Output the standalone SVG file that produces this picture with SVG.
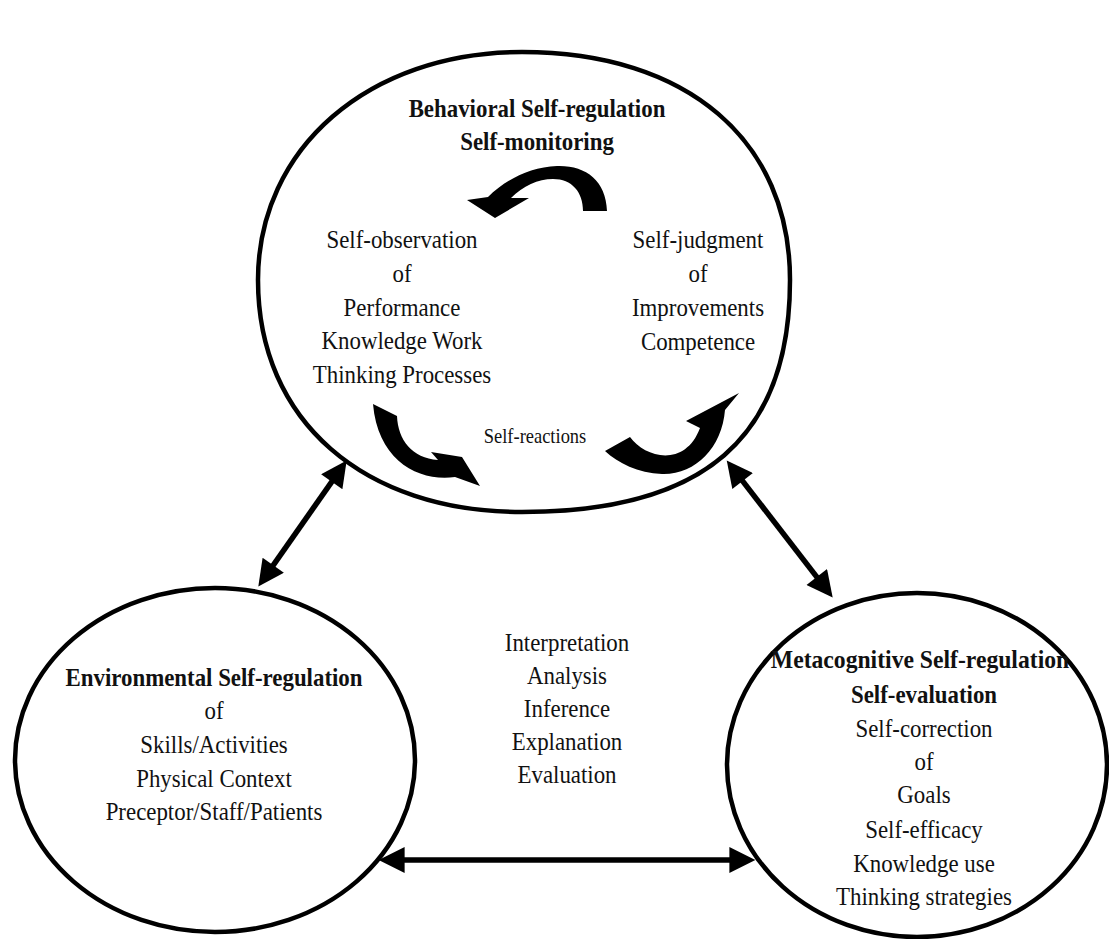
<svg xmlns="http://www.w3.org/2000/svg" width="1109" height="939" viewBox="0 0 1109 939">
<style>
.c{fill:none;stroke:#000;stroke-width:4.5}
.t{font-family:"Liberation Serif","Times New Roman",serif;font-size:26px;fill:#111;text-anchor:middle}
.b{font-weight:bold}
.s{font-size:21px}
.k{fill:#000;stroke:none}
.l{stroke:#000;stroke-width:5.5;fill:none;marker-start:url(#ah);marker-end:url(#ah)}
</style>
<defs>
<marker id="ah" viewBox="0 0 10 10" refX="7" refY="5" markerWidth="30" markerHeight="26" markerUnits="userSpaceOnUse" orient="auto-start-reverse">
<path d="M0,0 L10,5 L0,10 Z" fill="#000"/>
</marker>
</defs>
<rect width="1109" height="939" fill="#fff"/>

<g id="behavioral">
<path class="c" d="M790 280 C790 438 704 512 522 512 C364 512 258 421 258 280 C258 148 369 52 522 52 C688 52 790 141 790 280 Z"/>
<g transform="translate(537 0) scale(0.88 1)">
<text class="t b" x="0" y="117">Behavioral Self-regulation</text>
<text class="t b" x="0" y="150">Self-monitoring</text>
</g>
<g transform="translate(402 0) scale(0.88 1)">
<text class="t" x="0" y="248">Self-observation</text>
<text class="t" x="0" y="282">of</text>
<text class="t" x="0" y="316">Performance</text>
<text class="t" x="0" y="349">Knowledge Work</text>
<text class="t" x="0" y="383">Thinking Processes</text>
</g>
<g transform="translate(698 0) scale(0.88 1)">
<text class="t" x="0" y="248">Self-judgment</text>
<text class="t" x="0" y="282">of</text>
<text class="t" x="0" y="316">Improvements</text>
<text class="t" x="0" y="350">Competence</text>
</g>
<g transform="translate(535 0) scale(0.88 1)">
<text class="t s" x="0" y="443">Self-reactions</text>
</g>
<path class="k" d="M607 211 C606 180 585 165 557 166 C530 167 505 180 488 197 L467 200 L495 218 L529 198 L511 198 C523 186 538 179 553 179 C572 179 583 192 583 211 Z"/>
<path class="k" d="M373 404 L397 416 C398 440 412 458 438 460 L431 452 L462 457 L480 486 L455 477 C420 482 378 462 373 404 Z"/>
<path class="k" d="M605 451 L630 437 C645 458 685 468 700 428 L686 421 L739 393 L725 410 C722 448 695 475 662 474 C638 473 618 463 605 451 Z"/>
</g>

<g id="environmental">
<ellipse class="c" cx="215" cy="760" rx="200" ry="172"/>
<g transform="translate(214 0) scale(0.88 1)">
<text class="t b" x="0" y="686">Environmental Self-regulation</text>
<text class="t" x="0" y="719">of</text>
<text class="t" x="0" y="753">Skills/Activities</text>
<text class="t" x="0" y="787">Physical Context</text>
<text class="t" x="0" y="820">Preceptor/Staff/Patients</text>
</g>
</g>

<g id="metacognitive">
<ellipse class="c" cx="917" cy="765" rx="190" ry="172"/>
<g transform="translate(920 0) scale(0.91 1)">
<text class="t b" x="0" y="668">Metacognitive Self-regulation</text>
</g>
<g transform="translate(924 0) scale(0.88 1)">
<text class="t b" x="0" y="703">Self-evaluation</text>
<text class="t" x="0" y="737">Self-correction</text>
<text class="t" x="0" y="770">of</text>
<text class="t" x="0" y="803">Goals</text>
<text class="t" x="0" y="838">Self-efficacy</text>
<text class="t" x="0" y="872">Knowledge use</text>
<text class="t" x="0" y="905">Thinking strategies</text>
</g>
</g>

<g id="center-text" transform="translate(567 0) scale(0.88 1)">
<text class="t" x="0" y="651">Interpretation</text>
<text class="t" x="0" y="684">Analysis</text>
<text class="t" x="0" y="717">Inference</text>
<text class="t" x="0" y="750">Explanation</text>
<text class="t" x="0" y="783">Evaluation</text>
</g>

<g id="connectors">
<path class="l" d="M342.2 466.9 L262.8 580.1"/>
<path class="l" d="M731.5 466.6 L827.9 591.4"/>
<path class="l" d="M386.4 860 L747.6 860"/>
</g>
</svg>
